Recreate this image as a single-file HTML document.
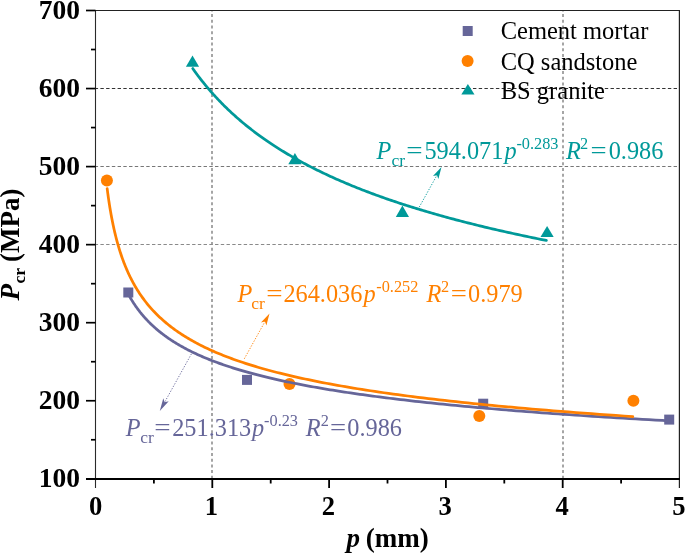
<!DOCTYPE html>
<html><head><meta charset="utf-8"><title>Pcr vs p</title><style>
html,body{margin:0;padding:0;background:#fff;overflow:hidden;}
svg{display:block;}
text{font-family:"Liberation Serif","Times New Roman",serif;}
</style></head><body>
<svg width="685" height="553" viewBox="0 0 685 553">
<g fill="none">
<line x1="212.0" y1="11" x2="212.0" y2="478" stroke="#9c9c9c" stroke-width="1.8" stroke-dasharray="3.0 2.7" stroke-dashoffset="2.6"/>
<line x1="563.0" y1="11" x2="563.0" y2="478" stroke="#9c9c9c" stroke-width="1.8" stroke-dasharray="3.0 2.7" stroke-dashoffset="2.6"/>
<line x1="96" y1="88.5" x2="679" y2="88.5" stroke="#333" stroke-width="1" stroke-dasharray="3.4 2.332" stroke-dashoffset="1.33"/>
<line x1="96" y1="166.5" x2="679" y2="166.5" stroke="#777" stroke-width="1" stroke-dasharray="3.4 2.332" stroke-dashoffset="1.33"/>
<line x1="96" y1="244.5" x2="679" y2="244.5" stroke="#8a8a8a" stroke-width="1" stroke-dasharray="3.4 2.332" stroke-dashoffset="1.33"/>
</g>
<rect x="123.3" y="287.5" width="10" height="10" fill="#666699"/>
<rect x="242" y="374.9" width="10" height="10" fill="#666699"/>
<rect x="478.2" y="398.7" width="10" height="10" fill="#666699"/>
<rect x="664.2" y="414.6" width="10" height="10" fill="#666699"/>
<circle cx="106.9" cy="180.5" r="6" fill="#ff8000"/>
<circle cx="289.5" cy="384.1" r="6" fill="#ff8000"/>
<circle cx="479.3" cy="416.1" r="6" fill="#ff8000"/>
<circle cx="633.4" cy="400.8" r="6" fill="#ff8000"/>
<polygon points="192.5,55.6 199.1,66.8 185.9,66.8" fill="#009999"/>
<polygon points="294.9,153.1 301.5,164.3 288.3,164.3" fill="#009999"/>
<polygon points="402.4,205.6 409,217 395.8,217" fill="#009999"/>
<polygon points="547.1,226.1 553.7,236.9 540.5,236.9" fill="#009999"/>
<polyline points="128.32,294.20 128.71,294.91 129.11,295.63 129.52,296.35 129.92,297.06 130.34,297.77 130.75,298.48 131.18,299.19 131.60,299.89 132.04,300.60 132.48,301.30 132.92,302.00 133.37,302.70 133.82,303.39 134.28,304.09 134.75,304.78 135.22,305.47 135.69,306.16 136.17,306.84 136.66,307.53 137.16,308.21 137.66,308.89 138.16,309.57 138.67,310.25 139.19,310.92 139.71,311.59 140.24,312.27 140.78,312.93 141.32,313.60 141.87,314.27 142.43,314.93 142.99,315.59 143.56,316.26 144.14,316.91 144.72,317.57 145.31,318.23 145.91,318.88 146.51,319.53 147.12,320.18 147.74,320.83 148.37,321.47 149.00,322.12 149.65,322.76 150.30,323.40 150.95,324.04 151.62,324.68 152.29,325.31 152.97,325.95 153.66,326.58 154.36,327.21 155.06,327.84 155.78,328.47 156.50,329.09 157.23,329.72 157.97,330.34 158.72,330.96 159.48,331.58 160.25,332.19 161.02,332.81 161.81,333.42 162.60,334.03 163.41,334.64 164.22,335.25 165.05,335.86 165.88,336.46 166.72,337.07 167.58,337.67 168.44,338.27 169.32,338.87 170.20,339.46 171.10,340.06 172.00,340.65 172.92,341.24 173.85,341.83 174.79,342.42 175.74,343.01 176.70,343.60 177.68,344.18 178.66,344.76 179.66,345.34 180.67,345.92 181.69,346.50 182.72,347.07 183.77,347.65 184.83,348.22 185.90,348.79 186.98,349.36 188.08,349.93 189.19,350.50 190.31,351.06 191.45,351.62 192.60,352.19 193.76,352.75 194.94,353.31 196.13,353.86 197.34,354.42 198.56,354.97 199.80,355.53 201.05,356.08 202.31,356.63 203.59,357.17 204.89,357.72 206.20,358.27 207.53,358.81 208.87,359.35 210.23,359.89 211.61,360.43 213.00,360.97 214.41,361.51 215.84,362.04 217.28,362.57 218.74,363.11 220.22,363.64 221.71,364.17 223.23,364.69 224.76,365.22 226.31,365.74 227.88,366.27 229.46,366.79 231.07,367.31 232.69,367.83 234.34,368.35 236.00,368.86 237.69,369.38 239.39,369.89 241.12,370.40 242.87,370.91 244.63,371.42 246.42,371.93 248.23,372.43 250.06,372.94 251.92,373.44 253.79,373.95 255.69,374.45 257.61,374.95 259.55,375.44 261.52,375.94 263.51,376.44 265.53,376.93 267.56,377.42 269.63,377.91 271.72,378.40 273.83,378.89 275.97,379.38 278.13,379.86 280.32,380.35 282.54,380.83 284.78,381.31 287.05,381.79 289.35,382.27 291.67,382.75 294.02,383.23 296.40,383.70 298.81,384.18 301.25,384.65 303.72,385.12 306.21,385.59 308.74,386.06 311.30,386.53 313.88,386.99 316.50,387.46 319.15,387.92 321.84,388.39 324.55,388.85 327.30,389.31 330.08,389.77 332.89,390.22 335.73,390.68 338.62,391.13 341.53,391.59 344.48,392.04 347.47,392.49 350.49,392.94 353.54,393.39 356.64,393.84 359.77,394.28 362.94,394.73 366.15,395.17 369.39,395.62 372.67,396.06 376.00,396.50 379.36,396.94 382.77,397.37 386.21,397.81 389.70,398.25 393.22,398.68 396.79,399.11 400.41,399.55 404.06,399.98 407.76,400.41 411.51,400.83 415.30,401.26 419.13,401.69 423.01,402.11 426.94,402.54 430.91,402.96 434.93,403.38 439.00,403.80 443.12,404.22 447.29,404.64 451.51,405.05 455.78,405.47 460.10,405.88 464.47,406.30 468.89,406.71 473.37,407.12 477.90,407.53 482.49,407.94 487.13,408.35 491.82,408.75 496.58,409.16 501.39,409.56 506.25,409.97 511.18,410.37 516.16,410.77 521.21,411.17 526.31,411.57 531.48,411.97 536.70,412.36 541.99,412.76 547.35,413.15 552.77,413.55 558.25,413.94 563.80,414.33 569.41,414.72 575.10,415.11 580.85,415.50 586.67,415.88 592.56,416.27 598.52,416.65 604.55,417.04 610.65,417.42 616.83,417.80 623.08,418.18 629.41,418.56 635.81,418.94 642.29,419.32 648.84,419.70 655.48,420.07 662.19,420.45 668.99,420.82" fill="none" stroke="#666699" stroke-width="2.75" stroke-linejoin="round" stroke-linecap="round"/>
<polyline points="107.18,188.69 107.37,190.17 107.56,191.64 107.75,193.10 107.95,194.56 108.15,196.02 108.35,197.46 108.56,198.91 108.77,200.34 108.98,201.77 109.20,203.20 109.42,204.62 109.64,206.03 109.87,207.44 110.10,208.84 110.34,210.23 110.58,211.63 110.82,213.01 111.07,214.39 111.32,215.76 111.57,217.13 111.83,218.50 112.09,219.85 112.36,221.20 112.63,222.55 112.90,223.89 113.18,225.23 113.47,226.56 113.76,227.88 114.05,229.20 114.35,230.52 114.65,231.83 114.96,233.13 115.27,234.43 115.59,235.72 115.91,237.01 116.24,238.30 116.58,239.57 116.91,240.85 117.26,242.11 117.61,243.38 117.96,244.63 118.33,245.89 118.69,247.13 119.07,248.38 119.44,249.61 119.83,250.85 120.22,252.08 120.62,253.30 121.02,254.52 121.43,255.73 121.85,256.94 122.27,258.14 122.70,259.34 123.14,260.53 123.59,261.72 124.04,262.91 124.50,264.08 124.96,265.26 125.44,266.43 125.92,267.59 126.41,268.75 126.90,269.91 127.41,271.06 127.92,272.21 128.44,273.35 128.97,274.49 129.51,275.62 130.06,276.75 130.61,277.87 131.18,278.99 131.75,280.11 132.34,281.22 132.93,282.32 133.53,283.42 134.14,284.52 134.76,285.61 135.39,286.70 136.04,287.79 136.69,288.87 137.35,289.94 138.02,291.01 138.71,292.08 139.40,293.14 140.11,294.20 140.82,295.25 141.55,296.30 142.29,297.35 143.05,298.39 143.81,299.42 144.59,300.46 145.38,301.49 146.18,302.51 146.99,303.53 147.82,304.55 148.66,305.56 149.52,306.57 150.39,307.57 151.27,308.57 152.17,309.57 153.08,310.56 154.00,311.55 154.94,312.53 155.90,313.51 156.87,314.49 157.86,315.46 158.86,316.43 159.88,317.39 160.92,318.35 161.97,319.31 163.04,320.26 164.12,321.21 165.23,322.16 166.35,323.10 167.49,324.04 168.64,324.97 169.82,325.90 171.02,326.83 172.23,327.75 173.46,328.67 174.72,329.59 175.99,330.50 177.29,331.41 178.60,332.31 179.94,333.21 181.30,334.11 182.67,335.00 184.08,335.89 185.50,336.78 186.95,337.66 188.42,338.54 189.91,339.42 191.43,340.29 192.97,341.16 194.54,342.02 196.13,342.89 197.75,343.74 199.40,344.60 201.07,345.45 202.76,346.30 204.49,347.14 206.24,347.99 208.02,348.82 209.83,349.66 211.67,350.49 213.54,351.32 215.44,352.14 217.37,352.96 219.33,353.78 221.32,354.60 223.34,355.41 225.40,356.22 227.48,357.02 229.61,357.82 231.76,358.62 233.95,359.42 236.18,360.21 238.44,361.00 240.74,361.78 243.08,362.57 245.45,363.34 247.86,364.12 250.31,364.89 252.80,365.66 255.33,366.43 257.90,367.20 260.51,367.96 263.17,368.71 265.86,369.47 268.60,370.22 271.39,370.97 274.21,371.72 277.09,372.46 280.01,373.20 282.97,373.93 285.99,374.67 289.05,375.40 292.16,376.13 295.33,376.85 298.54,377.57 301.81,378.29 305.12,379.01 308.49,379.72 311.92,380.43 315.40,381.14 318.94,381.85 322.53,382.55 326.18,383.25 329.89,383.94 333.66,384.64 337.49,385.33 341.38,386.02 345.33,386.70 349.35,387.39 353.43,388.07 357.58,388.74 361.79,389.42 366.08,390.09 370.43,390.76 374.85,391.42 379.34,392.09 383.90,392.75 388.54,393.41 393.25,394.06 398.04,394.72 402.91,395.37 407.85,396.01 412.87,396.66 417.98,397.30 423.16,397.94 428.43,398.58 433.79,399.22 439.23,399.85 444.75,400.48 450.37,401.10 456.08,401.73 461.87,402.35 467.77,402.97 473.75,403.59 479.83,404.20 486.01,404.82 492.29,405.43 498.68,406.03 505.16,406.64 511.75,407.24 518.44,407.84 525.24,408.44 532.15,409.04 539.17,409.63 546.31,410.22 553.56,410.81 560.92,411.39 568.41,411.98 576.01,412.56 583.74,413.14 591.59,413.71 599.57,414.29 607.67,414.86 615.91,415.43 624.28,416.00 632.78,416.56" fill="none" stroke="#ff8000" stroke-width="2.75" stroke-linejoin="round" stroke-linecap="round"/>
<polyline points="192.79,68.57 193.42,69.45 194.05,70.33 194.68,71.21 195.31,72.09 195.95,72.96 196.60,73.84 197.24,74.71 197.90,75.58 198.55,76.45 199.21,77.32 199.88,78.19 200.55,79.05 201.22,79.91 201.90,80.78 202.58,81.64 203.27,82.49 203.96,83.35 204.65,84.21 205.35,85.06 206.06,85.91 206.76,86.76 207.48,87.61 208.20,88.46 208.92,89.31 209.64,90.15 210.38,90.99 211.11,91.84 211.85,92.68 212.60,93.51 213.35,94.35 214.11,95.19 214.87,96.02 215.63,96.85 216.40,97.68 217.18,98.51 217.96,99.34 218.74,100.17 219.53,100.99 220.33,101.82 221.13,102.64 221.93,103.46 222.74,104.28 223.56,105.10 224.38,105.91 225.20,106.73 226.03,107.54 226.87,108.35 227.71,109.16 228.56,109.97 229.41,110.78 230.27,111.58 231.14,112.39 232.01,113.19 232.88,113.99 233.76,114.79 234.65,115.59 235.54,116.39 236.44,117.18 237.34,117.98 238.25,118.77 239.16,119.56 240.08,120.35 241.01,121.14 241.94,121.93 242.88,122.71 243.83,123.50 244.78,124.28 245.74,125.06 246.70,125.84 247.67,126.62 248.64,127.40 249.62,128.17 250.61,128.95 251.61,129.72 252.61,130.49 253.61,131.26 254.63,132.03 255.65,132.80 256.67,133.56 257.71,134.33 258.75,135.09 259.79,135.85 260.85,136.61 261.91,137.37 262.97,138.13 264.05,138.89 265.13,139.64 266.21,140.40 267.31,141.15 268.41,141.90 269.52,142.65 270.63,143.40 271.75,144.14 272.88,144.89 274.02,145.63 275.17,146.38 276.32,147.12 277.48,147.86 278.64,148.60 279.82,149.34 281.00,150.07 282.19,150.81 283.38,151.54 284.59,152.27 285.80,153.00 287.02,153.73 288.25,154.46 289.48,155.19 290.73,155.91 291.98,156.64 293.24,157.36 294.50,158.08 295.78,158.80 297.06,159.52 298.35,160.24 299.65,160.96 300.96,161.67 302.28,162.39 303.61,163.10 304.94,163.81 306.28,164.52 307.63,165.23 308.99,165.94 310.36,166.64 311.74,167.35 313.12,168.05 314.52,168.75 315.92,169.45 317.34,170.15 318.76,170.85 320.19,171.55 321.63,172.25 323.08,172.94 324.54,173.63 326.01,174.33 327.48,175.02 328.97,175.71 330.47,176.40 331.97,177.08 333.49,177.77 335.01,178.45 336.55,179.14 338.09,179.82 339.65,180.50 341.21,181.18 342.79,181.86 344.37,182.54 345.97,183.21 347.57,183.89 349.19,184.56 350.82,185.23 352.45,185.90 354.10,186.57 355.76,187.24 357.42,187.91 359.10,188.58 360.79,189.24 362.49,189.91 364.20,190.57 365.93,191.23 367.66,191.89 369.40,192.55 371.16,193.21 372.93,193.87 374.70,194.52 376.49,195.18 378.30,195.83 380.11,196.48 381.93,197.13 383.77,197.78 385.62,198.43 387.48,199.08 389.35,199.73 391.23,200.37 393.13,201.01 395.03,201.66 396.95,202.30 398.89,202.94 400.83,203.58 402.79,204.22 404.76,204.85 406.74,205.49 408.73,206.13 410.74,206.76 412.76,207.39 414.80,208.02 416.84,208.65 418.90,209.28 420.97,209.91 423.06,210.54 425.16,211.16 427.27,211.79 429.40,212.41 431.54,213.03 433.69,213.65 435.86,214.27 438.04,214.89 440.24,215.51 442.45,216.13 444.67,216.74 446.91,217.36 449.16,217.97 451.43,218.58 453.71,219.19 456.01,219.80 458.32,220.41 460.64,221.02 462.98,221.63 465.34,222.23 467.71,222.84 470.10,223.44 472.50,224.04 474.91,224.64 477.34,225.24 479.79,225.84 482.25,226.44 484.73,227.04 487.23,227.63 489.74,228.23 492.27,228.82 494.81,229.41 497.37,230.01 499.94,230.60 502.54,231.18 505.15,231.77 507.77,232.36 510.41,232.95 513.07,233.53 515.75,234.12 518.44,234.70 521.15,235.28 523.88,235.86 526.63,236.44 529.39,237.02 532.17,237.60 534.97,238.17 537.79,238.75 540.62,239.33 543.48,239.90 546.35,240.47" fill="none" stroke="#009999" stroke-width="2.75" stroke-linejoin="round" stroke-linecap="round"/>
<line x1="95.5" y1="10" x2="95.5" y2="488" stroke="#2a2a2a" stroke-width="1.1"/>
<line x1="95" y1="10.5" x2="680" y2="10.5" stroke="#222" stroke-width="1.2"/>
<line x1="679.4" y1="10" x2="679.4" y2="488" stroke="#222" stroke-width="1.2"/>
<line x1="86" y1="479.0" x2="680" y2="479.0" stroke="#000" stroke-width="2"/>
<line x1="86" y1="400.75" x2="95.5" y2="400.75" stroke="#000" stroke-width="1.7"/>
<line x1="86" y1="322.7" x2="95.5" y2="322.7" stroke="#000" stroke-width="1.7"/>
<line x1="86" y1="244.65" x2="95.5" y2="244.65" stroke="#000" stroke-width="1.7"/>
<line x1="86" y1="166.6" x2="95.5" y2="166.6" stroke="#000" stroke-width="1.7"/>
<line x1="86" y1="88.55" x2="95.5" y2="88.55" stroke="#000" stroke-width="1.7"/>
<line x1="86" y1="10.5" x2="95.5" y2="10.5" stroke="#000" stroke-width="1.7"/>
<line x1="91" y1="439.77" x2="95.5" y2="439.77" stroke="#000" stroke-width="1.7"/>
<line x1="91" y1="361.72" x2="95.5" y2="361.72" stroke="#000" stroke-width="1.7"/>
<line x1="91" y1="283.68" x2="95.5" y2="283.68" stroke="#000" stroke-width="1.7"/>
<line x1="91" y1="205.62" x2="95.5" y2="205.62" stroke="#000" stroke-width="1.7"/>
<line x1="91" y1="127.57" x2="95.5" y2="127.57" stroke="#000" stroke-width="1.7"/>
<line x1="91" y1="49.52" x2="95.5" y2="49.52" stroke="#000" stroke-width="1.7"/>
<line x1="212.3" y1="479.0" x2="212.3" y2="488" stroke="#000" stroke-width="1.8"/>
<line x1="329.1" y1="479.0" x2="329.1" y2="488" stroke="#000" stroke-width="1.8"/>
<line x1="445.9" y1="479.0" x2="445.9" y2="488" stroke="#000" stroke-width="1.8"/>
<line x1="562.7" y1="479.0" x2="562.7" y2="488" stroke="#000" stroke-width="1.8"/>
<line x1="153.9" y1="479.0" x2="153.9" y2="483.5" stroke="#000" stroke-width="1.8"/>
<line x1="270.7" y1="479.0" x2="270.7" y2="483.5" stroke="#000" stroke-width="1.8"/>
<line x1="387.5" y1="479.0" x2="387.5" y2="483.5" stroke="#000" stroke-width="1.8"/>
<line x1="504.3" y1="479.0" x2="504.3" y2="483.5" stroke="#000" stroke-width="1.8"/>
<line x1="621.1" y1="479.0" x2="621.1" y2="483.5" stroke="#000" stroke-width="1.8"/>
<text x="38.8" y="486.8" font-size="27.5" font-weight="bold">100</text>
<text x="38.8" y="408.75" font-size="27.5" font-weight="bold">200</text>
<text x="38.8" y="330.7" font-size="27.5" font-weight="bold">300</text>
<text x="38.8" y="252.65" font-size="27.5" font-weight="bold">400</text>
<text x="38.8" y="174.6" font-size="27.5" font-weight="bold">500</text>
<text x="38.8" y="96.55" font-size="27.5" font-weight="bold">600</text>
<text x="38.8" y="18.5" font-size="27.5" font-weight="bold">700</text>
<text x="88.95" y="515.3" font-size="26.6" font-weight="bold">0</text>
<text x="204.67" y="515.3" font-size="26.6" font-weight="bold">1</text>
<text x="321.86" y="515.3" font-size="26.6" font-weight="bold">2</text>
<text x="438.6" y="515.3" font-size="26.6" font-weight="bold">3</text>
<text x="555.51" y="515.3" font-size="26.6" font-weight="bold">4</text>
<text x="672.2" y="515.3" font-size="26.6" font-weight="bold">5</text>
<text x="346.52" y="547" font-size="27" font-weight="bold" font-style="italic" fill="#000">p</text>
<text x="365.71" y="547" font-size="27" font-weight="bold" fill="#000">(mm)</text>
<text transform="translate(18.8,300.39) rotate(-90)" font-size="27" font-weight="bold" font-style="italic" fill="#000">P</text>
<text transform="translate(25.4,283.6) rotate(-90)" font-size="17.5" font-weight="bold" fill="#000">cr</text>
<text transform="translate(18.6,261.99) rotate(-90)" font-size="27" font-weight="bold" fill="#000">(MPa)</text>
<rect x="462.7" y="26" width="10" height="10" fill="#666699"/>
<circle cx="467.6" cy="61.1" r="6" fill="#ff8000"/>
<polygon points="467.9,84 474.5,94.6 461.3,94.6" fill="#009999"/>
<text x="500.7" y="39.2" font-size="24.5" fill="#000">Cement mortar</text>
<text x="500.7" y="69.6" font-size="24.5" fill="#000">CQ sandstone</text>
<text x="500.79" y="99.3" font-size="24.5" fill="#000">BS granite</text>
<text x="376.53" y="158.7" font-size="24.3" font-style="italic" fill="#009999">P</text>
<text x="391.43" y="165.7" font-size="17.5" fill="#009999">cr</text>
<text transform="translate(406.16,158.7) scale(1.194,1)" font-size="24.3" fill="#009999">=</text>
<text x="424.39" y="158.7" font-size="24.3" fill="#009999">594.071</text>
<text x="504.42" y="158.7" font-size="24.3" font-style="italic" fill="#009999">p</text>
<text x="516.4" y="148.7" font-size="16.3" fill="#009999">-0.283</text>
<text x="565.93" y="158.7" font-size="24.3" font-style="italic" fill="#009999">R</text>
<text x="580.08" y="148.7" font-size="16.3" fill="#009999">2</text>
<text transform="translate(590.38,158.7) scale(1.176,1)" font-size="24.3" fill="#009999">=</text>
<text x="608.67" y="158.7" font-size="24.3" fill="#009999">0.986</text>
<text x="237.43" y="302" font-size="24.3" font-style="italic" fill="#ff8000">P</text>
<text x="251.23" y="309" font-size="17.5" fill="#ff8000">cr</text>
<text transform="translate(266.26,302) scale(1.194,1)" font-size="24.3" fill="#ff8000">=</text>
<text x="283.43" y="302" font-size="24.3" fill="#ff8000">264.036</text>
<text x="363.42" y="302" font-size="24.3" font-style="italic" fill="#ff8000">p</text>
<text x="376.3" y="292" font-size="16.3" fill="#ff8000">-0.252</text>
<text x="426.53" y="302" font-size="24.3" font-style="italic" fill="#ff8000">R</text>
<text x="440.98" y="292" font-size="16.3" fill="#ff8000">2</text>
<text transform="translate(450.68,302) scale(1.176,1)" font-size="24.3" fill="#ff8000">=</text>
<text x="468.07" y="302" font-size="24.3" fill="#ff8000">0.979</text>
<text x="125.63" y="435.5" font-size="24.3" font-style="italic" fill="#666699">P</text>
<text x="140.33" y="442.5" font-size="17.5" fill="#666699">cr</text>
<text transform="translate(154.36,435.5) scale(1.194,1)" font-size="24.3" fill="#666699">=</text>
<text x="172.23" y="435.5" font-size="24.3" fill="#666699">251.313</text>
<text x="252.02" y="435.5" font-size="24.3" font-style="italic" fill="#666699">p</text>
<text x="264.1" y="425.5" font-size="16.3" fill="#666699">-0.23</text>
<text x="305.73" y="435.5" font-size="24.3" font-style="italic" fill="#666699">R</text>
<text x="320.68" y="425.5" font-size="16.3" fill="#666699">2</text>
<text transform="translate(329.88,435.5) scale(1.176,1)" font-size="24.3" fill="#666699">=</text>
<text x="347.27" y="435.5" font-size="24.3" fill="#666699">0.986</text>
<line x1="419.2" y1="207.2" x2="437.43" y2="174.35" stroke="#009999" stroke-width="0.9" stroke-dasharray="1.3 1.5"/>
<polygon points="441.5,167.0 438.39,179 436.96,175.18 432.97,175.99" fill="#009999"/>
<line x1="244.3" y1="358.8" x2="265.42" y2="320.74" stroke="#ff8000" stroke-width="0.9" stroke-dasharray="1.3 1.5"/>
<polygon points="269.5,313.4 266.39,325.4 264.96,321.58 260.97,322.39" fill="#ff8000"/>
<line x1="191.4" y1="353.9" x2="164.14" y2="403.16" stroke="#666699" stroke-width="0.9" stroke-dasharray="1.3 1.5"/>
<polygon points="159.8,411.0 163.29,398.3 164.63,402.26 168.71,401.3" fill="#666699"/>
</svg>
</body></html>
